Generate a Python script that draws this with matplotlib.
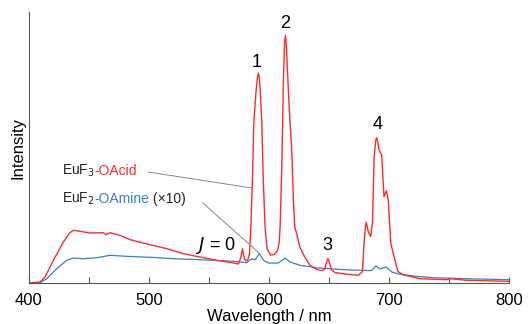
import matplotlib
matplotlib.use('Agg')
import matplotlib.pyplot as plt
from matplotlib.offsetbox import TextArea, HPacker, AnnotationBbox

plt.rcParams['font.family'] = ['Liberation Sans', 'DejaVu Sans']

# EuF3-OAcid emission (wavelength nm, intensity a.u.)
acid_wl = [400, 409.4, 413.6, 420.5, 428.9, 434, 437.2, 442.7, 451, 462, 464.4, 467.7, 476, 484.4,
           501, 515, 528.8, 542.7, 556.6, 570.4, 574.6, 576.5, 578, 579.6, 581, 582.5, 583.8, 584.9,
           586.3, 587.4, 589.3, 590.5, 591.2, 592, 592.8, 594, 595.4, 596.8, 598.5, 601.4, 604.5,
           607, 608.5, 609.3, 610.7, 612, 613, 613.7, 614.5, 615.3, 617, 619, 620.4, 621.5,
           623, 625.6, 629.7, 633.9, 639.4, 644.2, 646.5, 648, 649.2, 650.5, 652, 655, 663,
           674.5, 677.8, 679.2, 680.2, 681.1, 682.5, 684.7, 686.2, 687.6, 689, 689.7, 690.8,
           691.7, 693.9, 695.8, 697.8, 699.4, 701.4, 704.2, 707.5, 712.5, 725.9,
           748, 750.8, 764.7, 800]
acid_int = [0, 1, 6, 22.7, 41, 50, 52.7, 51.7, 50, 50.3, 48.3, 50.3, 47.7, 43.3,
            38.3, 34.3, 29.3, 26, 22.7, 20, 19, 25, 34.3, 24, 22, 23.5, 29, 55,
            105, 160, 192, 206, 210, 205, 192, 162, 100, 55, 34, 28, 28.5,
            32, 40, 56, 116, 199, 240, 247.7, 238, 216, 172.7, 132.7, 82.7, 56,
            50, 36.3, 26.3, 18, 13.7, 12.3, 14, 21, 24.7, 20, 13, 10.5, 9,
            7.7, 11.3, 39.7, 55, 60.7, 52, 46.3, 60, 126, 143, 145.3, 140,
            133, 128, 86.3, 92.3, 83, 39.7, 26.3, 11.3, 8, 4.3,
            3.3, 4.3, 2.7, 1.7]

# EuF2-OAmine emission (x10)
amine_wl = [400, 409.4, 415, 423.3, 431.6, 437.2, 445.5, 456.6, 467.7, 481.6, 501, 520.5,
            542.7, 570.4, 581.5, 585.7, 588.5, 592.1, 595.4, 599.6, 607.9, 613.5, 617.6,
            626, 639.8, 653.7, 667.6, 681.5, 685.6, 689, 692.5, 697.5, 702.3, 709.2,
            723.1, 737, 764.7, 800]
amine_int = [0, 0.3, 4.3, 14.3, 22.7, 25, 24.3, 25.3, 27.7, 26.7, 25.7, 24.3,
             23.3, 21.7, 20.3, 24.3, 23.3, 29.3, 22.7, 20, 20, 25, 21,
             17.7, 15.3, 14, 13, 12.5, 12.5, 17, 14, 16, 11, 8.7,
             6.7, 5.3, 4.3, 3.3]

peak_labels = ['1', '2', '3', '4']
peak_pos = [(589.6, 216), (613.6, 255), (648.6, 33), (690.5, 154)]

red = '#ff2a2a'
blue = '#3a7ec6'
dark = '#222222'

fig = plt.figure(figsize=(5.32, 3.24), dpi=100)
ax = fig.add_axes([0.054, 0.1265, 0.903, 0.8365])

ax.plot(amine_wl, amine_int, color=blue, linewidth=0.9)
ax.plot(acid_wl, acid_int, color=red, linewidth=1.0)

ax.set_xlim(400, 800)
ax.set_ylim(0, 271)
ax.set_xticks([400, 500, 600, 700, 800])
ax.set_xticks([450, 550, 650, 750], minor=True)
ax.set_yticks([])
ax.tick_params(axis='x', which='both', direction='in', length=4, width=0.8,
               color='#555555', labelsize=12, pad=7)
for s in ['top', 'right']:
    ax.spines[s].set_visible(False)
for s in ['left', 'bottom']:
    ax.spines[s].set_color('#555555')
    ax.spines[s].set_linewidth(0.8)

ax.set_xlabel('Wavelength / nm', fontsize=12, labelpad=1)
ax.set_ylabel('Intensity', fontsize=12, labelpad=2)

for lab, (x, y) in zip(peak_labels, peak_pos):
    ax.text(x, y, lab, fontsize=13, ha='center', va='baseline', color='black')
ax.text(556, 33, '$\\mathit{J}$ = 0', fontsize=13, ha='center', va='baseline', color='black')

# leader lines
ax.plot([499.4, 586], [111, 95], color='#888888', linewidth=0.7)
ax.plot([545, 592.8], [80, 29], color='#888888', linewidth=0.7)

def label(parts, xy):
    boxes = [TextArea(t, textprops=dict(color=c, fontsize=10)) for t, c in parts]
    pack = HPacker(children=boxes, align='baseline', pad=0, sep=0)
    ab = AnnotationBbox(pack, xy, xycoords='data', box_alignment=(0, 0.5), frameon=False, pad=0)
    ax.add_artist(ab)

label([('EuF$_3$', dark), ('-OAcid', red)], (427.5, 112))
label([('EuF$_2$', dark), ('-OAmine', blue), (' (\u00d710)', dark)], (427.5, 84))

fig.savefig('out.png', dpi=100)
